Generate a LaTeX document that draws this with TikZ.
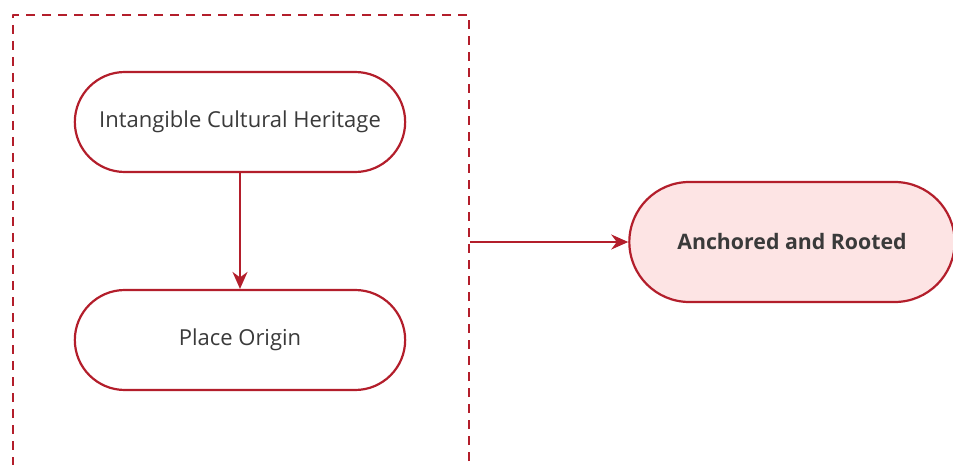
\documentclass[tikz,border=0pt]{standalone}
\usepackage{fontspec}
\setmainfont{Open Sans}
\usetikzlibrary{arrows.meta, shapes.misc}
\definecolor{edgered}{HTML}{B31E2B}
\definecolor{softpink}{HTML}{FDE4E4}
\definecolor{inkgray}{HTML}{3A3A3A}
\tikzset{
	pill/.style={rounded rectangle, draw=edgered, line width=2.2pt, fill=white,
		minimum width=337pt, minimum height=100pt, text=inkgray,
		font=\fontsize{22}{26}\selectfont},
	groupbox/.style={draw=edgered, line width=2.6pt, dash pattern=on 9pt off 7pt,
		minimum width=456pt, minimum height=470pt},
	flow/.style={-{Stealth[length=17pt, width=15pt]}, edgered, line width=2.2pt}
}

\begin{document}
\begin{tikzpicture}[x=1pt, y=1pt, line join=round]
\clip (0,0) rectangle (953,464);
%========================
% Left: dashed group
%========================
\node[groupbox] (heritagebox) at (241,214) {};
\node[pill] (heritage) at (240,342) {Intangible Cultural Heritage};
\node[pill] (origin) at (240,124) {Place Origin};
% vertical link
\draw[flow] (heritage.south) -- (origin.north);

%========================
% Right: result
%========================
\node[pill, fill=softpink, minimum width=332pt, minimum height=120pt,
	font=\fontsize{21.3}{25}\selectfont\bfseries] (anchored) at (792,222) {Anchored and Rooted};
\draw[flow] (heritagebox.east |- anchored.west) -- (anchored.west);
\end{tikzpicture}
\end{document}
